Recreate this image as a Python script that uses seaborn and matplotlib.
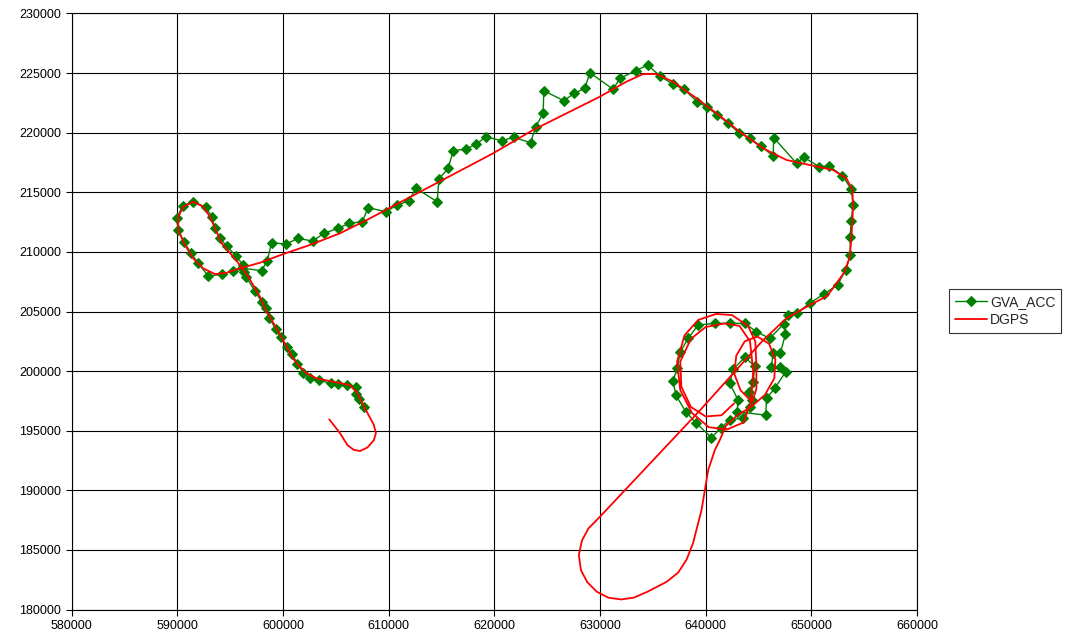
import matplotlib
matplotlib.use("Agg")
import matplotlib.pyplot as plt
import seaborn as sns
import pandas as pd

# GVA_ACC series (x, y)
gva_x = [607660, 607160, 606900, 606900, 606080, 605230, 604510, 603430, 602550, 601920,
         601370, 600850, 600410, 599780, 599310, 598700, 598390, 597980, 597350, 596500,
         596310, 596240, 595550, 594670, 594040, 593570, 593250, 592720, 591510, 590510,
         589940, 590090, 590630, 591270, 591990, 592930, 594200, 595300, 596090, 597980,
         598510, 598930, 600280, 601450, 602810, 603880, 605230, 606270, 607500, 608070,
         609740, 610810, 611920, 612580, 614600, 614760, 615640, 616110, 617310, 618290,
         619200, 620690, 621850, 623430, 623930, 624620, 624690, 626580, 627560, 628570,
         629040, 631250, 631880, 633390, 634510, 635710, 636920, 637960, 639190, 640140,
         641120, 642120, 643140, 644180, 645220, 646380, 646450, 648600, 649290, 650730,
         651680, 652950, 653800, 653950, 653780, 653670, 653700, 653240, 652480, 651180,
         649850, 648600, 647800, 647390, 646070, 644810, 643700, 642290, 640870, 639290,
         638340, 637620, 637300, 636920, 637180, 638120, 639070, 640550, 641410, 642310,
         643490, 644180, 644430, 644110, 644490, 644650, 643700, 642600, 642290, 643070,
         642980, 645690, 645760, 646540, 647580, 647020, 646230, 646380, 647080, 647550]
gva_y = [196960, 197630, 198080, 198640, 198830, 198920, 198970, 199250, 199390, 199860,
         200630, 201430, 202050, 202830, 203530, 204480, 205270, 205820, 206720, 207920,
         208340, 208900, 209660, 210490, 211140, 212030, 212950, 213740, 214210, 213850,
         212820, 211840, 210850, 209930, 209040, 207980, 208120, 208420, 208650, 208420,
         209260, 210770, 210660, 211140, 210910, 211560, 211980, 212400, 212530, 213720,
         213370, 213930, 214270, 215340, 214210, 216120, 217010, 218490, 218630, 219030,
         219660, 219330, 219610, 219160, 220500, 221630, 223520, 222680, 223300, 223720,
         225030, 223640, 224560, 225200, 225680, 224730, 224060, 223640, 222600, 222130,
         221480, 220790, 220000, 219530, 218880, 218050, 219580, 217430, 217940, 217150,
         217210, 216370, 215250, 213930, 212620, 211270, 209710, 208480, 207220, 206470,
         205690, 204850, 204700, 203950, 202750, 203300, 204010, 204010, 204010, 203870,
         202750, 201630, 200230, 199190, 197990, 196590, 195670, 194430, 195200, 195940,
         196040, 197010, 197570, 198270, 199110, 200430, 201160, 200150, 198970, 197570,
         196590, 196310, 197720, 198560, 199950, 200370, 200370, 201490, 201540, 203090]

# DGPS series (x, y)
dgps_x = [604380, 605400, 606100, 606700, 607300, 608000, 608600, 608800, 608600,
          607760, 606970, 606340, 603190, 602240,
          601290, 600660, 600350, 599400, 598460, 597820, 596720, 595930, 595150, 594200,
          593570, 593090, 592460, 591510, 590570, 590090, 590090, 590730, 591510, 592460,
          593570, 594670, 595930, 597820, 600030, 602550, 605390, 607920, 610430, 619890,
          623680, 629990, 632510, 634080, 635350, 636920, 639130, 641030, 643230, 645440,
          647650, 649850, 652060, 653320, 653890, 653950, 653800, 653640, 653160, 652380,
          651500, 649850, 647650, 645440, 639450, 635040, 629990, 628900, 628300, 628000,
          628200, 628800, 629700, 630800, 632000, 633200, 634500, 636300, 637400, 638200,
          638800, 639610, 640240, 640870, 641340,
          641900, 643000, 644300, 645600, 646500, 646600, 646000, 644900, 643700, 642900,
          642700, 643300, 644400, 644800, 644800, 644700, 644000, 642500, 641000, 639300,
          638000, 637300, 637600, 638700, 640300, 642000, 643600, 644300, 644500, 644200,
          643200, 641800, 640000, 638600, 637600, 637700, 638600, 640000, 641500, 642700]
dgps_y = [195960, 194800, 193800, 193400, 193300, 193600, 194200, 194800, 195500,
          196880, 198270, 198830, 199390, 199810,
          200650, 201490, 202040, 203590, 204980, 206240, 207920, 208900, 209740, 210720,
          211980, 212950, 213790, 214210, 213790, 212950, 211840, 210580, 209460, 208620,
          208140, 208250, 208620, 209090, 209820, 210580, 211560, 212670, 213850, 218270,
          220230, 223020, 224280, 224920, 224920, 224280, 222890, 221630, 220080, 218690,
          217710, 217290, 216870, 216170, 215190, 213790, 211270, 209600, 208340, 207360,
          206300, 205540, 204430, 202600, 196700, 192540, 187780, 186800, 185800, 184600,
          183300, 182300, 181500, 181000, 180850, 181000, 181500, 182330, 183100, 184200,
          185550, 188340, 191700, 193380, 194220,
          195400, 196300, 197000, 198000, 199400, 201000, 202300, 202900, 202500, 201300,
          199800, 198400, 197400, 198500, 200500, 202500, 203800, 204700, 204800, 204300,
          203000, 200800, 198400, 196500, 195300, 195100, 195700, 197500, 200000, 202500,
          203800, 204000, 203700, 202700, 200800, 198700, 197000, 196200, 196300, 197300]

x_ticks = list(range(580000, 660001, 10000))
y_ticks = list(range(180000, 230001, 5000))

sns.set_theme(style="white")
plt.rcParams['font.family'] = ['Liberation Sans', 'DejaVu Sans']

fig = plt.figure(figsize=(10.7, 6.41), dpi=100)
ax = fig.add_axes([0.0669, 0.049, 0.7901, 0.930])

gva = pd.DataFrame({"x": gva_x, "y": gva_y})
dg = pd.DataFrame({"x": dgps_x, "y": dgps_y})

sns.lineplot(data=gva, x="x", y="y", sort=False, estimator=None, ax=ax,
             color="#008000", linewidth=1.0, marker="D", markersize=5,
             markeredgecolor="#008000", label="GVA_ACC", zorder=3)
sns.lineplot(data=dg, x="x", y="y", sort=False, estimator=None, ax=ax,
             color="#FF0000", linewidth=1.3, label="DGPS", zorder=4)

ax.set_xlim(580000, 660000)
ax.set_ylim(180000, 230000)
ax.set_xticks(x_ticks)
ax.set_yticks(y_ticks)
ax.set_xticklabels([str(v) for v in x_ticks])
ax.set_yticklabels([str(v) for v in y_ticks])
ax.set_xlabel("")
ax.set_ylabel("")
ax.grid(True, color="black", linewidth=0.8)
ax.set_axisbelow(True)
for s in ax.spines.values():
    s.set_color("black")
    s.set_linewidth(0.8)
ax.tick_params(axis="both", labelsize=9, colors="black", direction="out",
               length=4, width=0.8, bottom=True, left=True)

leg = ax.legend(loc="center left", bbox_to_anchor=(0.887, 0.515),
                bbox_transform=fig.transFigure, frameon=True, fancybox=False,
                fontsize=10, borderpad=0.4, handlelength=2.3, handletextpad=0.25,
                labelspacing=0.3, borderaxespad=0)
leg.get_frame().set_edgecolor("black")
leg.get_frame().set_linewidth(0.8)

fig.savefig("out.png", dpi=100, facecolor="white")
